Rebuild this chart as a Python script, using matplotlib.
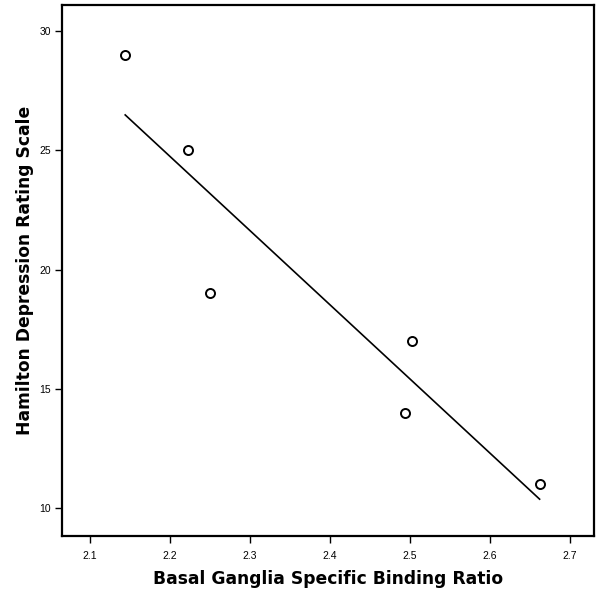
import numpy as np
import matplotlib
matplotlib.use("Agg")
import matplotlib.pyplot as plt

# Binding ratio vs. depression score
binding_ratio = [2.144, 2.2225, 2.25, 2.503, 2.494, 2.662]
hamd_score = [29, 25, 19, 17, 14, 11]

x_ticks = [2.1, 2.2, 2.3, 2.4, 2.5, 2.6, 2.7]
y_ticks = [10, 15, 20, 25, 30]

plt.rcParams['font.family'] = ['Liberation Sans', 'DejaVu Sans']

fig = plt.figure(figsize=(5.98, 5.89), dpi=100)
ax = fig.add_axes([0.1037, 0.090, 0.8896, 0.9015])

# least-squares fit line spanning the observed x range
slope, intercept = np.polyfit(binding_ratio, hamd_score, 1)
xs = np.array([min(binding_ratio), max(binding_ratio)])
ax.plot(xs, slope * xs + intercept, color='black', lw=1.2)

ax.plot(binding_ratio, hamd_score, linestyle='none', marker='o', ms=6.5,
        mfc='white', mec='black', mew=1.4)

ax.set_xlim(2.065, 2.73)
ax.set_ylim(8.83, 31.09)
ax.set_xticks(x_ticks)
ax.set_xticklabels([f"{t:.1f}" for t in x_ticks])
ax.set_yticks(y_ticks)
ax.set_yticklabels([str(t) for t in y_ticks])
ax.tick_params(direction='out', length=5, width=1, labelsize=7.5, color='black')
ax.tick_params(axis='x', pad=6)
ax.tick_params(axis='y', pad=3)

for sp in ax.spines.values():
    sp.set_linewidth(1.6)
    sp.set_color('black')

label_font = dict(family=['DejaVu Sans'], fontsize=12.3, fontweight='bold')
ax.set_xlabel("Basal Ganglia Specific Binding Ratio", **label_font)
ax.set_ylabel("Hamilton Depression Rating Scale", **label_font)
ax.xaxis.set_label_coords(0.5, -0.064)
ax.yaxis.set_label_coords(-0.052, 0.5)

fig.savefig("out.png", dpi=100)
